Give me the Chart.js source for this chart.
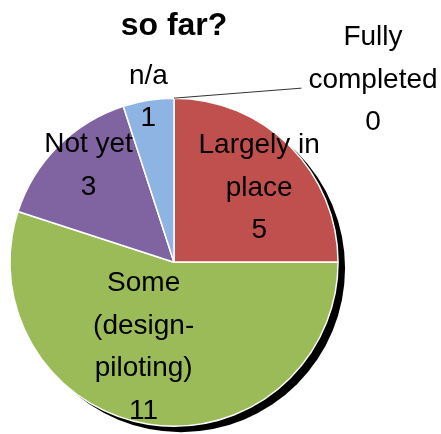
<!DOCTYPE html>
<html>
<head>
<meta charset="utf-8">
<script src="https://cdn.jsdelivr.net/npm/chart.js@4"></script>
<style>
html,body{margin:0;padding:0;background:#fff;}
#wrap{width:441px;height:434px;position:relative;}
</style>
</head>
<body>
<div id="wrap"><canvas id="c" width="441" height="434"></canvas></div>
<script>
const titleText = "so far?";
const categories = ["Fully completed", "Largely in place", "Some (design-piloting)", "Not yet", "n/a"];
const labelLines = [["Fully", "completed"], ["Largely in", "place"], ["Some", "(design-", "piloting)"], ["Not yet"], ["n/a"]];
const values = [0, 5, 11, 3, 1];
const colors = ["#4F81BD", "#C0504D", "#9BBB59", "#8064A2", "#8DB4E2"];

const FONT = '"Liberation Sans", Arial, sans-serif';

const shadowPlugin = {
  id: 'shadow',
  beforeDatasetsDraw(chart) {
    const meta = chart.getDatasetMeta(0);
    const a = meta.data[1];
    const ctx = chart.ctx;
    ctx.save();
    ctx.beginPath();
    ctx.arc(a.x + 7, a.y + 6, a.outerRadius, 0, Math.PI * 2);
    ctx.fillStyle = '#000';
    ctx.fill();
    ctx.restore();
  }
};

// label placement: fraction of radius along mid-angle plus small nudges
const labelPlace = [
  {f: 1.0, dx: 199, dy: -18, leader: true},
  {f: 0.70, dx: 4, dy: 7},
  {f: 0.52, dx: -17, dy: 1},
  {f: 0.78, dx: 5, dy: -6},
  {f: 1.0, dx: 0, dy: -3}
];

const labelPlugin = {
  id: 'pieLabels',
  afterDatasetsDraw(chart) {
    const meta = chart.getDatasetMeta(0);
    const ctx = chart.ctx;
    const lh = 42.5;
    ctx.save();
    ctx.font = '28px ' + FONT;
    ctx.fillStyle = '#000';
    ctx.textAlign = 'center';
    ctx.textBaseline = 'middle';
    meta.data.forEach((arc, i) => {
      const p = labelPlace[i];
      const mid = (arc.startAngle + arc.endAngle) / 2;
      const r = arc.outerRadius * p.f;
      const cx = arc.x + Math.cos(mid) * r + p.dx;
      const cy = arc.y + Math.sin(mid) * r + p.dy;
      const lines = labelLines[i].concat([String(values[i])]);
      const top = cy - (lines.length - 1) * lh / 2;
      let maxW = 0;
      lines.forEach((t, k) => {
        ctx.fillText(t, cx, top + k * lh);
        maxW = Math.max(maxW, ctx.measureText(t).width);
      });
      if (p.leader) {
        const sx = arc.x + Math.cos(arc.startAngle) * arc.outerRadius;
        const sy = arc.y + Math.sin(arc.startAngle) * arc.outerRadius;
        ctx.beginPath();
        ctx.moveTo(sx, sy);
        ctx.lineTo(cx - maxW / 2 - 7, top + lh + 8);
        ctx.strokeStyle = '#333';
        ctx.lineWidth = 1;
        ctx.stroke();
      }
    });
    ctx.restore();
  }
};

new Chart(document.getElementById('c'), {
  type: 'pie',
  data: {
    labels: categories,
    datasets: [{
      data: values,
      backgroundColor: colors,
      borderColor: '#fff',
      borderWidth: 1.5
    }]
  },
  options: {
    responsive: false,
    animation: false,
    events: [],
    layout: {padding: {left: 9, right: 102, top: 0, bottom: 7}},
    plugins: {
      legend: {display: false},
      tooltip: {enabled: false},
      title: {
        display: true,
        text: titleText,
        color: '#000',
        font: {family: FONT, size: 32, weight: 'bold', lineHeight: 1.2},
        padding: {top: 7, bottom: 52}
      }
    }
  },
  plugins: [shadowPlugin, labelPlugin]
});
</script>
</body>
</html>
